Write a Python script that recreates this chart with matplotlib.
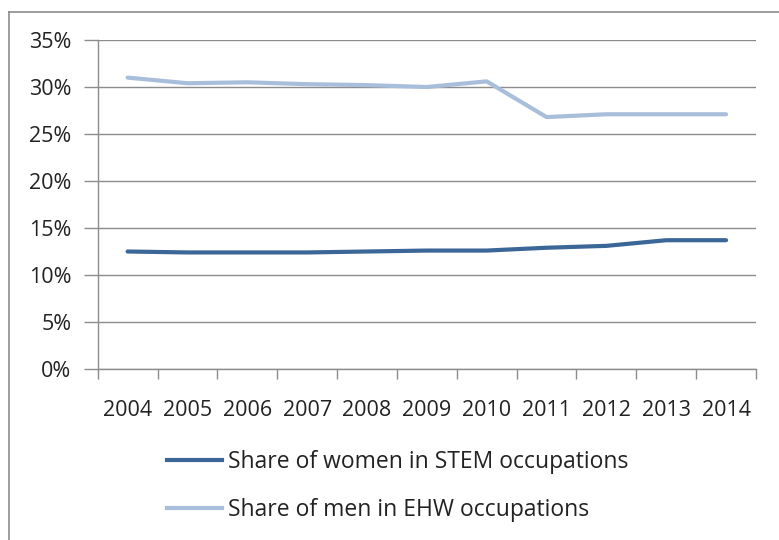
import matplotlib.pyplot as plt
from matplotlib.lines import Line2D
import numpy as np

years = ['2004', '2005', '2006', '2007', '2008', '2009', '2010', '2011', '2012', '2013', '2014']
women_stem = [12.5, 12.4, 12.4, 12.4, 12.5, 12.6, 12.6, 12.9, 13.1, 13.7, 13.7]
men_ehw = [31.0, 30.4, 30.5, 30.3, 30.2, 30.0, 30.6, 26.8, 27.1, 27.1, 27.1]
labels = ['Share of women in STEM occupations', 'Share of men in EHW occupations']
yticks = [0, 5, 10, 15, 20, 25, 30, 35]

dark = '#3B6698'
light = '#A9BEDB'
grid = '#8C8C8C'

plt.rcParams['font.family'] = ['Open Sans', 'DejaVu Sans']

fig = plt.figure(figsize=(7.79, 5.4), dpi=100)
ax = fig.add_axes([97.7 / 779, 1 - 369 / 540, (756 - 97.7) / 779, (369 - 40) / 540])

x = np.arange(len(years))
ax.plot(x, women_stem, color=dark, lw=3.0, solid_capstyle='round', label=labels[0])
ax.plot(x, men_ehw, color=light, lw=3.0, solid_capstyle='round', label=labels[1])

ax.set_xlim(-0.5, len(years) - 0.5)
ax.set_ylim(0, 35)
ax.set_yticks(yticks)
ax.set_yticklabels([f'{v}%' for v in yticks])
ax.set_xticks(x)
ax.set_xticklabels(years)
ax.set_xticks(np.arange(len(years) + 1) - 0.5, minor=True)

ax.grid(axis='y', color=grid, lw=1.0)
ax.set_axisbelow(True)
for s in ['top', 'right']:
    ax.spines[s].set_visible(False)
for s in ['left', 'bottom']:
    ax.spines[s].set_color(grid)
    ax.spines[s].set_linewidth(1.0)

ax.tick_params(axis='y', length=10, width=1.0, color=grid, labelsize=15.5, labelcolor='#222222', pad=9)
ax.tick_params(axis='x', which='major', length=0, labelsize=15.5, labelcolor='#222222', pad=22)
ax.tick_params(axis='x', which='minor', length=7, width=1.0, color=grid)

# legend
handles = [Line2D([], [], color=dark, lw=3.0), Line2D([], [], color=light, lw=3.0)]
fig.legend(handles, labels, loc='upper left', bbox_to_anchor=(167 / 779, 1 - 450 / 540),
           frameon=False, fontsize=16.5, handlelength=2.4, handletextpad=0.25,
           labelspacing=1.05, labelcolor='#222222', borderpad=0, borderaxespad=0)

# outer frame of the cropped chart
fig.add_artist(Line2D([9 / 779, 9 / 779], [0, 1 - 12 / 540], transform=fig.transFigure, color='#8C8C8C', lw=1.2))
fig.add_artist(Line2D([9 / 779, 1], [1 - 12 / 540, 1 - 12 / 540], transform=fig.transFigure, color='#8C8C8C', lw=1.2))

fig.savefig('out.png', dpi=100)
